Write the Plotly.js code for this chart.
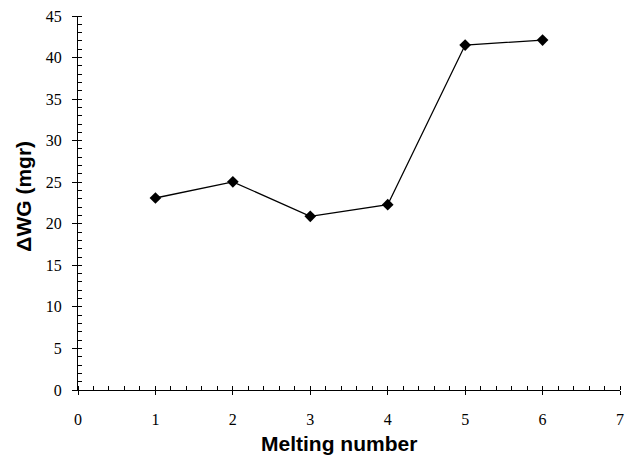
<!DOCTYPE html>
<html>
<head>
<meta charset="utf-8">
<script src="https://cdn.plot.ly/plotly-3.0.1.min.js"></script>
<style>html,body{margin:0;padding:0;background:#fff;}#chart{width:635px;height:461px;}</style>
</head>
<body>
<div id="chart"></div>
<script>
var meltingNumber = [1, 2, 3, 4, 5, 6];
var deltaWG = [23.1, 25.05, 20.9, 22.3, 41.5, 42.1];
var xTitle = 'Melting number';
var yTitle = '\u0394WG (mgr)';

var trace = {
  x: meltingNumber,
  y: deltaWG,
  type: 'scatter',
  mode: 'lines+markers',
  line: {color: '#000', width: 1.3},
  marker: {symbol: 'diamond', size: 9, color: '#000'},
  showlegend: false,
  hoverinfo: 'x+y'
};

function tickFont() { return {family: 'Liberation Serif', size: 16, color: '#000'}; }
function titleFont() { return {family: 'Liberation Sans', size: 21, color: '#000'}; }

var layout = {
  width: 635,
  height: 461,
  margin: {l: 78, r: 15, t: 16, b: 71},
  paper_bgcolor: '#fff',
  plot_bgcolor: '#fff',
  font: {family: 'Liberation Serif', size: 16, color: '#000'},
  xaxis: {
    range: [0, 7],
    dtick: 1,
    tick0: 0,
    showgrid: false,
    zeroline: false,
    showline: true,
    linecolor: '#000',
    linewidth: 1,
    ticks: 'outside',
    ticklen: 4,
    tickwidth: 1,
    tickcolor: '#000',
    tickfont: tickFont(),
    ticklabelstandoff: 11,
    minor: {dtick: 0.2, ticks: 'inside', ticklen: 4, tickwidth: 1, tickcolor: '#000', showgrid: false},
    fixedrange: true
  },
  yaxis: {
    range: [0, 45],
    dtick: 5,
    tick0: 0,
    showgrid: false,
    zeroline: false,
    showline: true,
    linecolor: '#000',
    linewidth: 1,
    ticks: 'outside',
    ticklen: 5,
    tickwidth: 1,
    tickcolor: '#000',
    tickfont: tickFont(),
    ticklabelstandoff: 7,
    minor: {dtick: 1, ticks: 'inside', ticklen: 4, tickwidth: 1, tickcolor: '#000', showgrid: false},
    fixedrange: true
  },
  xaxis2: {
    overlaying: 'x', anchor: 'y', range: [0, 7], dtick: 1, tick0: 0,
    showgrid: false, zeroline: false, showline: false, showticklabels: false,
    ticks: 'inside', ticklen: 3, tickwidth: 1, tickcolor: '#000', fixedrange: true
  },
  yaxis2: {
    overlaying: 'y', anchor: 'x', range: [0, 45], dtick: 5, tick0: 0,
    showgrid: false, zeroline: false, showline: false, showticklabels: false,
    ticks: 'inside', ticklen: 3, tickwidth: 1, tickcolor: '#000', fixedrange: true
  },
  annotations: [
    {text: '<b>' + xTitle + '</b>', xref: 'paper', yref: 'paper', x: 0.4815, y: -0.143,
     xanchor: 'center', yanchor: 'middle', showarrow: false, font: titleFont()},
    {text: '<b>' + yTitle + '</b>', xref: 'paper', yref: 'paper', x: -0.0996, y: 0.517,
     xanchor: 'center', yanchor: 'middle', textangle: -90, showarrow: false, font: titleFont()}
  ]
};

var helper = {x: [], y: [], xaxis: 'x2', yaxis: 'y2', type: 'scatter', mode: 'markers', showlegend: false, hoverinfo: 'skip'};

Plotly.newPlot('chart', [helper, trace], layout, {displayModeBar: false});
</script>
</body>
</html>
